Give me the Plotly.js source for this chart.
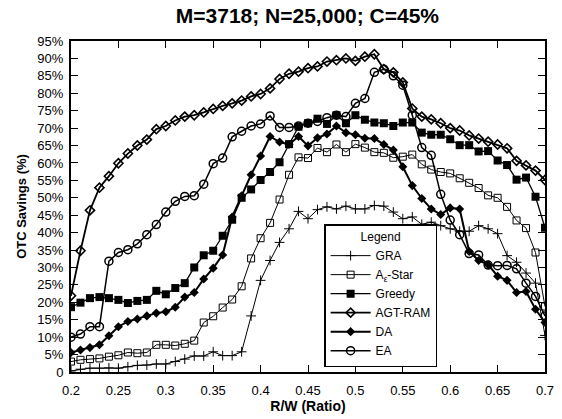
<!DOCTYPE html>
<html>
<head>
<meta charset="utf-8">
<script src="https://cdn.plot.ly/plotly-3.0.1.min.js"></script>
<style>html,body{margin:0;padding:0;background:#fff;}#chart{width:562px;height:419px;}</style>
</head>
<body>
<div id="chart"></div>
<script>
// R/W ratio (x values)
const xRatio = [0.20,0.21,0.22,0.23,0.24,0.25,0.26,0.27,0.28,0.29,
                0.30,0.31,0.32,0.33,0.34,0.35,0.36,0.37,0.38,0.39,
                0.40,0.41,0.42,0.43,0.44,0.45,0.46,0.47,0.48,0.49,
                0.50,0.51,0.52,0.53,0.54,0.55,0.56,0.57,0.58,0.59,
                0.60,0.61,0.62,0.63,0.64,0.65,0.66,0.67,0.68,0.69,0.70];

// OTC savings (%) per algorithm
const gra = [0.3,0.8,1.1,1.1,1.2,1.1,1.5,1.9,2.0,2.3,
             2.3,3.0,3.7,4.6,4.6,5.8,4.7,4.7,5.8,16.1,
             26.3,32.0,37.2,41.1,46.1,44.0,46.6,47.4,46.8,47.6,
             46.8,46.8,47.8,47.6,45.9,44.0,44.5,42.4,43.0,42.0,
             41.1,40.4,40.4,42.0,41.1,39.7,33.4,31.5,28.4,25.5,10.5];

const aeStar = [3.0,3.5,3.7,3.9,4.4,4.8,5.6,5.4,5.6,7.8,
                7.8,7.6,8.1,9.0,14.2,16.0,18.5,20.8,24.6,32.6,
                38.4,42.8,49.5,56.6,61.6,61.4,64.3,63.1,65.3,63.1,
                65.4,64.4,63.1,62.9,61.5,61.8,62.4,59.6,58.1,57.4,
                57.0,55.6,54.3,52.8,50.7,50.0,47.4,43.5,41.3,34.3,18.8];

const greedy = [18.6,19.9,21.2,21.5,21.2,20.7,19.8,20.4,20.7,23.3,
                22.3,24.1,25.5,30.0,33.5,34.8,39.1,43.7,50.0,52.4,
                55.1,57.4,60.2,65.4,70.4,71.4,72.7,71.2,73.7,71.4,
                73.7,72.4,71.6,71.4,70.6,71.6,71.6,68.7,68.1,68.1,
                66.8,65.1,65.1,63.3,63.4,60.7,59.4,55.2,55.8,50.3,41.4];

const agtRam = [21.9,34.8,46.4,52.9,56.2,59.9,62.7,65.0,66.7,69.7,
                70.6,72.2,73.3,73.7,74.5,75.5,76.4,77.1,77.9,79.1,
                79.8,81.4,84.1,85.6,86.2,87.2,87.7,89.1,89.5,90.0,
                89.3,90.5,91.2,86.9,86.0,83.1,75.6,73.3,72.5,71.4,
                70.0,69.3,67.9,67.0,66.1,65.3,64.2,60.6,59.3,57.8,55.1];

const da = [5.6,6.3,7.0,7.8,10.4,13.0,14.5,15.2,16.1,16.9,
            17.3,18.6,21.5,22.8,26.7,29.8,33.6,44.5,50.6,56.6,
            62.0,67.6,66.0,65.3,67.6,64.9,67.2,68.3,70.6,68.7,
            68.1,67.1,67.0,65.3,63.7,58.9,53.5,49.8,46.8,45.2,
            47.1,46.8,34.6,32.0,30.8,27.5,26.3,22.8,23.1,18.0,14.2];

const ea = [10.0,10.9,13.0,13.0,31.8,34.3,35.1,36.8,39.4,42.3,
            45.9,49.0,50.4,50.6,53.9,59.8,61.4,67.5,69.1,70.6,
            71.2,73.5,70.2,70.2,70.6,71.4,71.9,73.0,73.7,73.3,
            77.1,78.5,86.0,86.9,85.0,82.3,73.7,64.4,62.2,51.0,
            43.6,39.4,34.0,33.6,30.7,30.5,30.6,29.6,25.5,21.7,16.1];

const seriesNames = ['GRA','A<sub>ε</sub>-Star','Greedy','AGT-RAM','DA','EA'];

// axis ticks
const xTickVals = [0.2,0.25,0.3,0.35,0.4,0.45,0.5,0.55,0.6,0.65,0.7];
const xTickText = ['0.2','0.25','0.3','0.35','0.4','0.45','0.5','0.55','0.6','0.65','0.7'];
const yTickVals = [0,5,10,15,20,25,30,35,40,45,50,55,60,65,70,75,80,85,90,95];
const yTickText = ['0','5%','10%','15%','20%','25%','30%','35%','40%','45%','50%','55%','60%','65%','70%','75%','80%','85%','90%','95%'];

const FONT = 'Liberation Sans, Arial, Helvetica, sans-serif';

function tr(name, y, lineW, symbol, size, mlw, fill) {
  return {
    type: 'scatter', mode: 'lines+markers', name: name,
    x: xRatio, y: y,
    line: {color: '#000', width: lineW},
    marker: {symbol: symbol, size: size, color: fill,
             line: {color: '#000', width: mlw}}
  };
}

const data = [
  tr(seriesNames[0], gra, 1, 'cross-thin-open', 7, 1, '#000'),
  tr(seriesNames[1], aeStar, 1, 'square-open', 7, 1, '#000'),
  tr(seriesNames[2], greedy, 1.3, 'square', 8, 0, '#000'),
  tr(seriesNames[3], agtRam, 1.8, 'diamond-open', 7, 1.6, '#000'),
  tr(seriesNames[4], da, 2, 'diamond', 7, 0, '#000'),
  tr(seriesNames[5], ea, 1.5, 'circle-open', 8, 1.5, '#000')
];

const axisCommon = {
  showgrid: false, zeroline: false,
  showline: true, linecolor: '#000', linewidth: 2, mirror: 'ticks',
  ticks: 'inside', ticklen: 7, tickwidth: 1, tickcolor: '#000',
  tickfont: {family: FONT, size: 13, color: '#000'}
};

const layout = {
  width: 562, height: 419,
  paper_bgcolor: '#fff', plot_bgcolor: '#fff',
  margin: {l: 71, r: 17, t: 41, b: 47},
  font: {family: FONT, color: '#000'},
  title: {text: '<b>M=3718; N=25,000; C=45%</b>', x: 0.547, xanchor: 'center',
          y: 0.962, yref: 'container', yanchor: 'middle',
          font: {family: FONT, size: 21, color: '#000'}},
  xaxis: Object.assign({}, axisCommon, {
    range: [0.2, 0.7], tickmode: 'array', tickvals: xTickVals, ticktext: xTickText,
    ticklabelstandoff: 5,
    title: {text: '<b>R/W (Ratio)</b>', standoff: 3, font: {family: FONT, size: 14, color: '#000'}}
  }),
  yaxis: Object.assign({}, axisCommon, {
    range: [0, 95], tickmode: 'array', tickvals: yTickVals, ticktext: yTickText,
    ticklabelstandoff: 3,
    title: {text: '<b>OTC Savings (%)</b>', standoff: 8, font: {family: FONT, size: 13, color: '#000'}}
  }),
  legend: {
    x: 0.534, y: 0.015, xanchor: 'left', yanchor: 'bottom',
    bgcolor: '#fff', bordercolor: '#000', borderwidth: 1.5,
    itemwidth: 40,
    font: {family: FONT, size: 12, color: '#000'},
    title: {text: 'Legend', side: 'top center', font: {family: FONT, size: 12, color: '#000'}}
  },
  showlegend: true
};

Plotly.newPlot('chart', data, layout, {displayModeBar: false, staticPlot: true});
</script>
</body>
</html>
